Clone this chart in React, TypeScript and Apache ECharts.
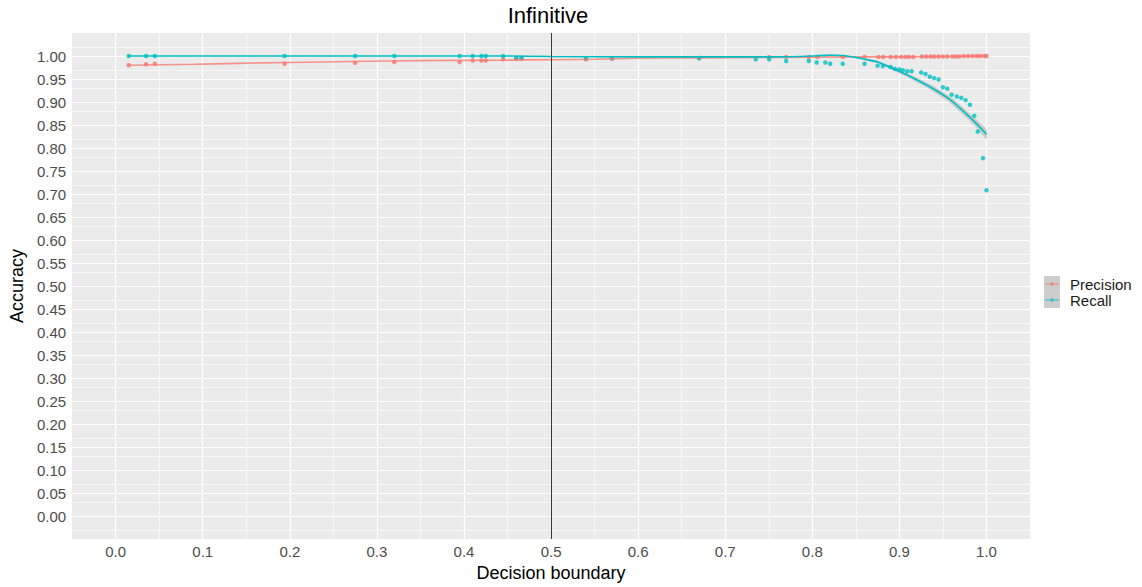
import { useEffect, useRef } from 'react';
import * as echarts from 'echarts';

const FONT = '"Liberation Sans", Arial, sans-serif';

// Tick labels
const xTicks = [0, 0.1, 0.2, 0.3, 0.4, 0.5, 0.6, 0.7, 0.8, 0.9, 1.0];
const yTicks = [0, 0.05, 0.1, 0.15, 0.2, 0.25, 0.3, 0.35, 0.4, 0.45, 0.5, 0.55, 0.6, 0.65, 0.7, 0.75, 0.8, 0.85, 0.9, 0.95, 1.0];
const xMinorGrid = [0.05, 0.15, 0.25, 0.35, 0.45, 0.55, 0.65, 0.75, 0.85, 0.95];
const yMinorGrid = [-0.025, 0.025, 0.075, 0.125, 0.175, 0.225, 0.275, 0.325, 0.375, 0.425, 0.475, 0.525, 0.575, 0.625, 0.675, 0.725, 0.775, 0.825, 0.875, 0.925, 0.975, 1.025];

// Precision points
const precisionX = [0.015, 0.035, 0.045, 0.194, 0.275, 0.32, 0.395, 0.41, 0.42, 0.425, 0.445, 0.46, 0.466, 0.54, 0.57, 0.67,
  0.7505, 0.77, 0.796, 0.806, 0.835, 0.86, 0.876, 0.8815, 0.89, 0.896, 0.902, 0.907, 0.911, 0.916, 0.926, 0.931, 0.936,
  0.94, 0.945, 0.95, 0.955, 0.961, 0.965, 0.969, 0.974, 0.979, 0.984, 0.989, 0.993, 0.998, 1.0];
const precisionY = [0.980, 0.982, 0.983, 0.983, 0.985, 0.987, 0.987, 0.990, 0.990, 0.990, 0.993, 0.994, 0.994, 0.993, 0.994, 0.996,
  0.998, 0.998, 0.998, 0.998, 0.998, 0.998, 0.998, 0.998, 0.998, 0.998, 0.998, 0.998, 0.998, 0.998, 0.999, 0.999, 0.999,
  0.999, 0.999, 0.999, 0.999, 0.999, 0.999, 0.999, 1.0, 1.0, 1.0, 1.0, 1.0, 1.0, 1.0];

// Recall points
const recallX = [0.015, 0.035, 0.045, 0.194, 0.275, 0.32, 0.395, 0.41, 0.42, 0.425, 0.445, 0.46, 0.466, 0.54, 0.57, 0.67,
  0.735, 0.7505, 0.77, 0.796, 0.805, 0.815, 0.8206, 0.835, 0.86, 0.875, 0.881, 0.89, 0.895, 0.9, 0.904, 0.909, 0.914,
  0.925, 0.93, 0.935, 0.94, 0.945, 0.95, 0.955, 0.96, 0.966, 0.971, 0.976, 0.981, 0.986, 0.99, 0.996, 1.0];
const recallY = [1.0, 1.0, 1.0, 1.0, 1.0, 1.0, 1.0, 1.0, 1.0, 1.0, 1.0, 0.996, 0.996, 0.995, 0.995, 0.995,
  0.993, 0.993, 0.989, 0.989, 0.986, 0.986, 0.983, 0.983, 0.983, 0.979, 0.978, 0.976, 0.972, 0.971, 0.969, 0.967, 0.967,
  0.964, 0.961, 0.955, 0.952, 0.949, 0.932, 0.929, 0.916, 0.912, 0.909, 0.904, 0.894, 0.870, 0.836, 0.778, 0.708];

// Smoothed fits
const precisionFitX = [0.015, 0.09, 0.14, 0.2, 0.27, 0.35, 0.45, 0.5, 0.55, 0.6, 0.67, 0.75, 0.85, 0.9, 0.95, 1.0];
const precisionFitY = [0.980, 0.982, 0.984, 0.986, 0.988, 0.990, 0.991, 0.992, 0.993, 0.995, 0.996, 0.997, 0.998, 0.998, 0.999, 1.0];

const recallFitX = [0.015, 0.1, 0.2, 0.3, 0.4, 0.45, 0.5, 0.6, 0.7, 0.76, 0.8, 0.82, 0.835, 0.85, 0.86, 0.875, 0.89, 0.913, 0.936, 0.959, 0.974, 0.989, 1.0];
const recallFitY = [1.0, 1.0, 1.0, 1.0, 1.0, 1.0, 0.999, 0.998, 0.998, 0.998, 1.0, 1.002, 1.001, 0.997, 0.993, 0.987, 0.975, 0.955, 0.932, 0.904, 0.879, 0.852, 0.830];

// Confidence band of the recall fit
const recallBandX = [0.86, 0.875, 0.89, 0.913, 0.936, 0.959, 0.974, 0.989, 1.0];
const recallBandLow = [0.991, 0.984, 0.971, 0.950, 0.926, 0.897, 0.871, 0.843, 0.819];
const recallBandHigh = [0.995, 0.990, 0.979, 0.960, 0.938, 0.911, 0.887, 0.861, 0.841];

const boundary = 0.5;

const RED = '#F8766D';
const CYAN = '#00BFC4';

const legendIcon =
  'path://M0,0 L0.01,0 L0,0.01 Z M16,16 L15.99,16 L16,15.99 Z M1,7.5 L15,7.5 L15,8.5 L1,8.5 Z M9.8,8 A1.8,1.8 0 1,1 6.2,8 A1.8,1.8 0 1,1 9.8,8 Z';

export default function App() {
  const ref = useRef<HTMLDivElement>(null);
  useEffect(() => {
    const chart = echarts.init(ref.current!, null, { renderer: 'svg' });
    const pair = (xs: number[], ys: number[]) => xs.map((x, i) => [x, ys[i]]);
    const bandData = recallBandX.map((x, i) => [x, recallBandLow[i], recallBandHigh[i]]);

    const option: any = {
      animation: false,
      textStyle: { fontFamily: FONT },
      title: {
        text: 'Infinitive',
        left: 548,
        top: 4,
        padding: 0,
        textAlign: 'center',
        textStyle: { fontSize: 22, fontWeight: 'normal', color: '#000', fontFamily: FONT },
      },
      grid: {
        left: 67, right: 112, top: 33, bottom: 48,
        show: true, backgroundColor: '#EBEBEB', borderWidth: 0,
      },
      legend: {
        orient: 'vertical',
        left: 1044,
        top: 276,
        padding: 0,
        itemGap: 0,
        itemWidth: 16,
        itemHeight: 16,
        icon: legendIcon,
        data: ['Precision', 'Recall'],
        textStyle: { fontSize: 15, color: '#1A1A1A', fontFamily: FONT, padding: [0, 0, 0, 5], lineHeight: 16 },
        selectedMode: false,
      },
      graphic: [
        { type: 'rect', left: 1044, top: 276, shape: { width: 16, height: 32 }, style: { fill: '#CDCDCD' }, z: 0 },
      ],
      xAxis: {
        type: 'value',
        min: -0.05,
        max: 1.05,
        interval: 0.05,
        axisLine: { show: false },
        splitLine: { show: false },
        axisTick: { show: true, customValues: xTicks, length: 4, lineStyle: { color: '#333', width: 1 } },
        axisLabel: {
          customValues: xTicks,
          formatter: (v: number) => v.toFixed(1),
          fontSize: 15, color: '#4D4D4D', margin: 5, fontFamily: FONT,
        },
        name: 'Decision boundary',
        nameLocation: 'middle',
        nameGap: 23,
        nameTextStyle: { fontSize: 18, color: '#000', fontFamily: FONT },
      },
      yAxis: {
        type: 'value',
        min: -0.05,
        max: 1.05,
        interval: 0.05,
        axisLine: { show: false },
        splitLine: { show: false },
        axisTick: { show: true, customValues: yTicks, length: 4, lineStyle: { color: '#333', width: 1 } },
        axisLabel: {
          customValues: yTicks,
          formatter: (v: number) => v.toFixed(2),
          fontSize: 15, color: '#4D4D4D', margin: 6, fontFamily: FONT,
        },
        name: 'Accuracy',
        nameLocation: 'middle',
        nameRotate: 90,
        nameGap: 37,
        nameTextStyle: { fontSize: 18, color: '#000', fontFamily: FONT },
      },
      series: [
        {
          name: 'grid',
          type: 'line',
          data: [],
          silent: true,
          z: 1,
          markLine: {
            silent: true,
            z: 1,
            symbol: ['none', 'none'],
            label: { show: false },
            animation: false,
            data: [
              ...xMinorGrid.map((v) => ({ xAxis: v, lineStyle: { color: '#FFFFFF', width: 0.6, type: 'solid' } })),
              ...yMinorGrid.map((v) => ({ yAxis: v, lineStyle: { color: '#FFFFFF', width: 0.6, type: 'solid' } })),
              ...xTicks.map((v) => ({ xAxis: v, lineStyle: { color: '#FFFFFF', width: 1.2, type: 'solid' } })),
              ...yTicks.map((v) => ({ yAxis: v, lineStyle: { color: '#FFFFFF', width: 1.2, type: 'solid' } })),
            ],
          },
        },
        {
          name: 'band',
          type: 'custom',
          data: bandData,
          encode: { x: 0, y: [1, 2] },
          silent: true,
          z: 2,
          renderItem: (params: any, api: any) => {
            if (params.dataIndex !== 0) return null;
            const upper = recallBandX.map((x, i) => api.coord([x, recallBandHigh[i]]));
            const lower = recallBandX.map((x, i) => api.coord([x, recallBandLow[i]])).reverse();
            return {
              type: 'polygon',
              shape: { points: upper.concat(lower), smooth: 0.2 },
              style: { fill: 'rgba(153,153,153,0.4)' },
            };
          },
        },
        {
          name: 'Precision',
          type: 'scatter',
          data: pair(precisionX, precisionY),
          symbolSize: 4.5,
          itemStyle: { color: RED },
          z: 3,
        },
        {
          name: 'Recall',
          type: 'scatter',
          data: pair(recallX, recallY),
          symbolSize: 4.5,
          itemStyle: { color: CYAN },
          z: 3,
        },
        {
          name: 'Precision',
          type: 'line',
          data: pair(precisionFitX, precisionFitY),
          showSymbol: false,
          smooth: 0.2,
          itemStyle: { color: RED },
          lineStyle: { color: RED, width: 1.6, opacity: 0.75 },
          z: 4,
        },
        {
          name: 'Recall',
          type: 'line',
          data: pair(recallFitX, recallFitY),
          showSymbol: false,
          smooth: 0.2,
          itemStyle: { color: CYAN },
          lineStyle: { color: CYAN, width: 1.6 },
          z: 4,
        },
        {
          name: 'vline',
          type: 'line',
          data: [],
          silent: true,
          z: 10,
          markLine: {
            silent: true,
            z: 10,
            symbol: ['none', 'none'],
            label: { show: false },
            animation: false,
            lineStyle: { color: '#222', width: 0.9, type: 'solid' },
            data: [{ xAxis: boundary }],
          },
        },
      ],
    };
    chart.setOption(option);
    return () => chart.dispose();
  }, []);
  return <div ref={ref} style={{ position: 'absolute', left: 0, top: 0, width: 1142, height: 587 }} />;
}
